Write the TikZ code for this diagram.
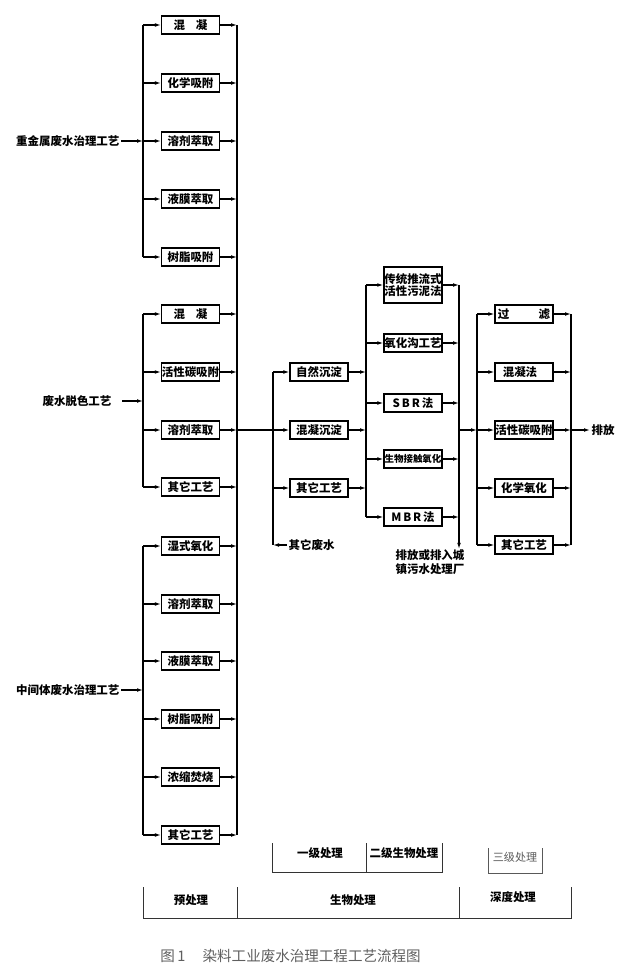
\documentclass[tikz,border=0pt]{standalone}
\usepackage{fontspec}
\setmainfont{Noto Sans CJK SC}
\usetikzlibrary{arrows.meta,positioning}
\newcommand{\boxfont}{\fontsize{8.6}{10}\selectfont\bfseries}
\newcommand{\tinyboxfont}{\fontsize{7.1}{8}\selectfont\bfseries}
\definecolor{capgray}{RGB}{95,95,95}

\begin{document}
\begin{tikzpicture}[x=0.75pt, y=-0.75pt,
    proc/.style={draw, line width=0.9pt, minimum width=43.5pt,
        minimum height=13.5pt, inner sep=0.3pt, align=center, font=\boxfont},
    flow/.style={-{Latex[length=4.5pt, width=2.8pt]}, line width=0.8pt},
    bus/.style={line width=0.8pt},
    src/.style={inner sep=1pt, font=\boxfont},
    bracket/.style={line width=0.7pt, black!80}
]
\useasboundingbox (0,0) rectangle (640,973);

% bus lines
\coordinate (lb) at (143,0); \coordinate (rb) at (237,0);
\coordinate (m1) at (273,0); \coordinate (m2) at (366,0);
\coordinate (m3) at (459,0); \coordinate (m4) at (477,0);
\coordinate (m5) at (571,0);

% pretreatment
\node[proc] (a1) at (190.5,25) {混\hspace{8pt}凝};
\node[proc] (a2) at (190.5,83) {化学吸附};
\node[proc] (a3) at (190.5,141) {溶剂萃取};
\node[proc] (a4) at (190.5,199) {液膜萃取};
\node[proc] (a5) at (190.5,257) {树脂吸附};
\node[proc] (b1) at (190.5,314) {混\hspace{8pt}凝};
\node[proc] (b2) at (190.5,372) {活性碳吸附};
\node[proc] (b3) at (190.5,430) {溶剂萃取};
\node[proc] (b4) at (190.5,487) {其它工艺};
\node[proc] (c1) at (190.5,546) {湿式氧化};
\node[proc] (c2) at (190.5,604) {溶剂萃取};
\node[proc] (c3) at (190.5,661) {液膜萃取};
\node[proc] (c4) at (190.5,719) {树脂吸附};
\node[proc] (c5) at (190.5,777) {浓缩焚烧};
\node[proc] (c6) at (190.5,835) {其它工艺};

\node[src, anchor=east] (heavy) at (121,141) {重金属废水治理工艺};
\node[src, anchor=east] (decolor) at (113,401) {废水脱色工艺};
\node[src, anchor=east] (inter) at (121,690) {中间体废水治理工艺};

\draw[bus] (a1 -| lb) -- (a5 -| lb);
\draw[bus] (b1 -| lb) -- (b4 -| lb);
\draw[bus] (c1 -| lb) -- (c6 -| lb);
\draw[bus] (a1 -| rb) -- (c6 -| rb);
\draw[flow] (heavy) -- (heavy -| lb);
\draw[flow] ([xshift=7pt]decolor.east) -- (decolor -| lb);
\draw[flow] (inter) -- (inter -| lb);
\foreach \n in {a1,a2,a3,a4,a5,b1,b2,b3,b4,c1,c2,c3,c4,c5,c6}
    {\draw[flow] (\n -| lb) -- (\n); \draw[flow] (\n) -- (\n -| rb);}

% primary treatment
\node[proc] (d1) at (319,372) {自然沉淀};
\node[proc] (d2) at (319,430) {混凝沉淀};
\node[proc] (d3) at (319,488) {其它工艺};
\node[src, anchor=west] (other) at (287,545) {其它废水};

\draw[bus] (d1 -| m1) -- (other -| m1);
\draw[flow] (b3 -| rb) -- (d2);
\draw[flow] (d1 -| m1) -- (d1); \draw[flow] (d3 -| m1) -- (d3);
\draw[flow] (other) -- (other -| m1);

% secondary biological treatment
\node[proc, minimum height=27pt] (e1) at (413,285) {传统推流式\\[-1pt]活性污泥法};
\node[proc] (e2) at (413,343) {氧化沟工艺};
\node[proc] (e3) at (413,403) {S\,B\,R\,法};
\node[proc, font=\tinyboxfont] (e4) at (413,459) {生物接触氧化};
\node[proc] (e5) at (413,517) {M\,B\,R\,法};
\node[src, align=center, inner sep=0pt] (disch) at (430,562)
    {排放或排入城\\[1pt]镇污水处理厂};

\draw[bus] (e1 -| m2) -- (e5 -| m2);
\foreach \n in {d1,d2,d3} {\draw[flow] (\n) -- (\n -| m2);}
\foreach \n in {e1,e2,e3,e4,e5}
    {\draw[flow] (\n -| m2) -- (\n); \draw[flow] (\n) -- (\n -| m3);}
\draw[flow] (e1 -| m3) -- (disch.north -| m3);

% advanced treatment
\node[proc] (f1) at (524,314) {过\hspace{22pt}滤};
\node[proc] (f2) at (524,372) {混凝法\hspace{6pt}};
\node[proc] (f3) at (524,430) {活性碳吸附};
\node[proc] (f4) at (524,488) {化学氧化};
\node[proc] (f5) at (524,545) {其它工艺};
\node[src, anchor=west] (out) at (590,430) {排放};

\draw[flow] (f3 -| m3) -- (f3 -| m4);
\draw[bus] (f1 -| m4) -- (f5 -| m4);
\draw[bus] (f1 -| m5) -- (f5 -| m5);
\foreach \n in {f1,f2,f3,f4,f5}
    {\draw[flow] (\n -| m4) -- (\n); \draw[flow] (\n) -- (\n -| m5);}
\draw[flow] (f3 -| m5) -- (out);

% stage brackets
\draw[bracket] (272,843) -- (272,872) -- (442,872) -- (442,843);
\draw[bracket] (366,843) -- (366,872);
\node[src] (lv1) at (320,853) {一级处理};
\node[src] (lv2) at (404,853) {二级生物处理};
\draw[bracket, black!65] (488,848) -- (488,873) -- (542,873) -- (542,848);
\node[src, font=\fontsize{8.3}{10}\selectfont, text=black!65] (lv3) at (515,857) {三级处理};

\draw[bracket] (143,887) -- (143,918) -- (571,918) -- (571,887);
\draw[bracket] (237,887) -- (237,918);
\draw[bracket] (459,887) -- (459,918);
\node[src] (pre) at (191,900) {预处理};
\node[src] (bio) at (353,900) {生物处理};
\node[src] (deep) at (513,897) {深度处理};

\node[font=\fontsize{10.9}{12}\selectfont, text=capgray] (cap) at (290.5,956)
    {图\,1\hspace{13pt}染料工业废水治理工程工艺流程图};
\end{tikzpicture}
\end{document}
